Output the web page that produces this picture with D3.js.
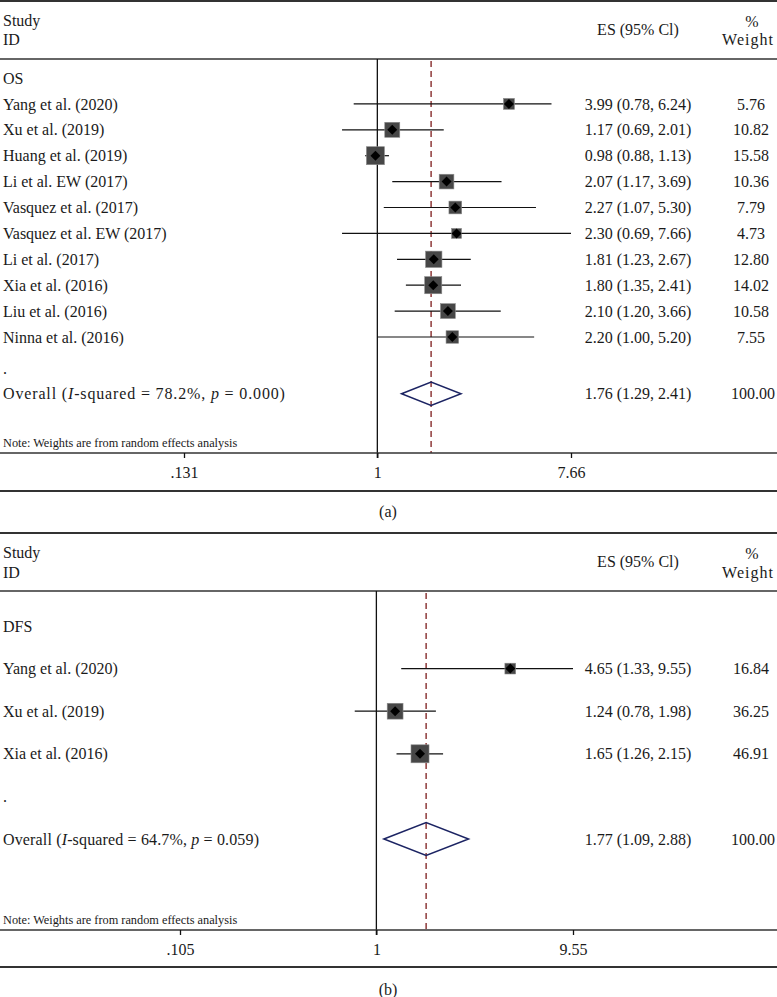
<!DOCTYPE html>
<html>
<head>
<meta charset="utf-8">
<script src="https://cdn.jsdelivr.net/npm/d3@7/dist/d3.min.js"></script>
<style>
  html, body { margin: 0; padding: 0; background: #fff; }
  svg { display: block; }
  text { font-family: "Liberation Serif", "Times New Roman", serif; fill: #1a1a1a; }
</style>
</head>
<body>
<svg id="chart" width="777" height="997"></svg>
<script>
// ---------- DATA ----------
// Panel (a): overall survival
const osSection = "OS";
const osStudies = ["Yang et al. (2020)", "Xu et al. (2019)", "Huang et al. (2019)", "Li et al. EW (2017)",
  "Vasquez et al. (2017)", "Vasquez et al. EW (2017)", "Li et al. (2017)", "Xia et al. (2016)",
  "Liu et al. (2016)", "Ninna et al. (2016)"];
const osES     = [3.99, 1.17, 0.98, 2.07, 2.27, 2.30, 1.81, 1.80, 2.10, 2.20];
const osLow    = [0.78, 0.69, 0.88, 1.17, 1.07, 0.69, 1.23, 1.35, 1.20, 1.00];
const osHigh   = [6.24, 2.01, 1.13, 3.69, 5.30, 7.66, 2.67, 2.41, 3.66, 5.20];
const osWeight = [5.76, 10.82, 15.58, 10.36, 7.79, 4.73, 12.80, 14.02, 10.58, 7.55];
const osOverall = { es: 1.76, low: 1.29, high: 2.41, weight: 100.00, i2: "78.2%", p: "0.000" };
const osTicks = [0.131, 1, 7.66];
const osTickLabels = [".131", "1", "7.66"];

// Panel (b): disease-free survival
const dfsSection = "DFS";
const dfsStudies = ["Yang et al. (2020)", "Xu et al. (2019)", "Xia et al. (2016)"];
const dfsES     = [4.65, 1.24, 1.65];
const dfsLow    = [1.33, 0.78, 1.26];
const dfsHigh   = [9.55, 1.98, 2.15];
const dfsWeight = [16.84, 36.25, 46.91];
const dfsOverall = { es: 1.77, low: 1.09, high: 2.88, weight: 100.00, i2: "64.7%", p: "0.059" };
const dfsTicks = [0.105, 1, 9.55];
const dfsTickLabels = [".105", "1", "9.55"];

const noteText = "Note: Weights are from random effects analysis";

// ---------- DRAW ----------
const svg = d3.select("#chart");
const W = 777;
const FS = 16;
const fmt2 = d3.format(".2f");

function drawPanel(o) {
  const g = svg.append("g");
  const x = d3.scaleLog().domain([o.ticks[0], o.ticks[o.ticks.length - 1]]).range(o.xRange);
  const size = d3.scaleSqrt().domain([0, d3.max(o.weight)]).range([0, o.maxBox]);
  const n = o.studies.length;
  const rowY = i => o.row0 + i * o.step + (i > n ? o.extra : 0);

  const rule = (y, w) => g.append("line").attr("x1", 0).attr("x2", W).attr("y1", y).attr("y2", y)
    .attr("stroke", "#333").attr("stroke-width", w);
  const txt = (xx, y, s, anchor) => g.append("text").attr("x", xx).attr("y", y).attr("dy", "0.35em")
    .attr("font-size", FS).attr("text-anchor", anchor || "start").text(s);

  // header
  rule(o.top, 2);
  txt(3, o.hdr1, "Study");
  txt(3, o.hdr2, "ID");
  txt(638, o.hdrES, "ES (95% Cl)", "middle");
  txt(752, o.hdr1 + 1, "%", "middle");
  txt(748, o.hdr2, "Weight", "middle").attr("letter-spacing", 1);
  rule(o.hdrRule, 1.5);

  // null line and overall dashed line
  g.append("line").attr("x1", x(1)).attr("x2", x(1)).attr("y1", o.hdrRule).attr("y2", o.axisY + 5)
    .attr("stroke", "#111").attr("stroke-width", 1.3);
  g.append("line").attr("x1", x(o.overall.es)).attr("x2", x(o.overall.es)).attr("y1", o.hdrRule + 2).attr("y2", o.axisY)
    .attr("stroke", "#8e3a3a").attr("stroke-width", 1.5).attr("stroke-dasharray", "6,4");

  // section label
  txt(3, rowY(0), o.section);

  // studies
  o.studies.forEach((s, i) => {
    const y = rowY(i + 1);
    txt(3, y, s);
    g.append("line").attr("x1", x(o.low[i])).attr("x2", x(o.high[i])).attr("y1", y).attr("y2", y)
      .attr("stroke", "#111").attr("stroke-width", 1.2);
    const b = size(o.weight[i]);
    g.append("rect").attr("x", x(o.es[i]) - b / 2).attr("y", y - b / 2).attr("width", b).attr("height", b)
      .attr("fill", "#474747").attr("stroke", "#8a8a8a").attr("stroke-width", 0.6);
    const d = 5;
    const cx = x(o.es[i]);
    g.append("path").attr("d", `M${cx - d},${y}L${cx},${y - d}L${cx + d},${y}L${cx},${y + d}Z`).attr("fill", "#000");
    txt(638, y, `${fmt2(o.es[i])} (${fmt2(o.low[i])}, ${fmt2(o.high[i])})`, "middle");
    txt(751, y, fmt2(o.weight[i]), "middle");
  });

  // blank "." row
  txt(3, rowY(n + 1), ".");

  // overall row
  const yo = rowY(n + 2);
  const t = g.append("text").attr("x", 3).attr("y", yo).attr("dy", "0.35em").attr("font-size", FS)
    .attr("letter-spacing", o.overallSpacing);
  t.append("tspan").text("Overall (");
  t.append("tspan").attr("font-style", "italic").text("I");
  t.append("tspan").text(`-squared = ${o.overall.i2}, `);
  t.append("tspan").attr("font-style", "italic").text("p");
  t.append("tspan").text(` = ${o.overall.p})`);
  const h = o.diamondH;
  g.append("path")
    .attr("d", `M${x(o.overall.low)},${yo}L${x(o.overall.es)},${yo - h}L${x(o.overall.high)},${yo}L${x(o.overall.es)},${yo + h}Z`)
    .attr("fill", "none").attr("stroke", "#1c2463").attr("stroke-width", 1.5);
  txt(638, yo, `${fmt2(o.overall.es)} (${fmt2(o.overall.low)}, ${fmt2(o.overall.high)})`, "middle");
  txt(753, yo, fmt2(o.overall.weight), "middle");

  // note
  g.append("text").attr("x", 3).attr("y", o.noteY).attr("dy", "0.35em").attr("font-size", 12.3).text(noteText);

  // axis
  rule(o.axisY, 1.5);
  const axis = d3.axisBottom(x).tickValues(o.ticks).tickFormat((d, i) => o.tickLabels[i]).tickSize(5).tickPadding(9);
  const ag = g.append("g").attr("transform", `translate(0,${o.axisY})`).call(axis);
  ag.select(".domain").remove();
  ag.selectAll(".tick line").attr("stroke", "#111").attr("stroke-width", 1.3);
  ag.selectAll(".tick text").attr("font-size", FS).attr("font-family", "Liberation Serif, serif").attr("fill", "#1a1a1a");

  rule(o.bottom, 2);
  txt(388, o.captionY, o.caption, "middle");
}

drawPanel({
  section: osSection, studies: osStudies, es: osES, low: osLow, high: osHigh, weight: osWeight,
  overall: osOverall, ticks: osTicks, tickLabels: osTickLabels,
  xRange: [184, 571], maxBox: 18,
  top: 1, hdr1: 20, hdr2: 39, hdrES: 29, hdrRule: 59,
  row0: 78, step: 25.9, extra: 5, diamondH: 11.7, overallSpacing: 0.85,
  noteY: 443, axisY: 453, bottom: 491, captionY: 511, caption: "(a)"
});

drawPanel({
  section: dfsSection, studies: dfsStudies, es: dfsES, low: dfsLow, high: dfsHigh, weight: dfsWeight,
  overall: dfsOverall, ticks: dfsTicks, tickLabels: dfsTickLabels,
  xRange: [180, 573], maxBox: 18,
  top: 533, hdr1: 552, hdr2: 572, hdrES: 561, hdrRule: 591,
  row0: 626, step: 42.6, extra: 0, diamondH: 16.5, overallSpacing: 0.15,
  noteY: 920, axisY: 930, bottom: 967, captionY: 989, caption: "(b)"
});
</script>
</body>
</html>
